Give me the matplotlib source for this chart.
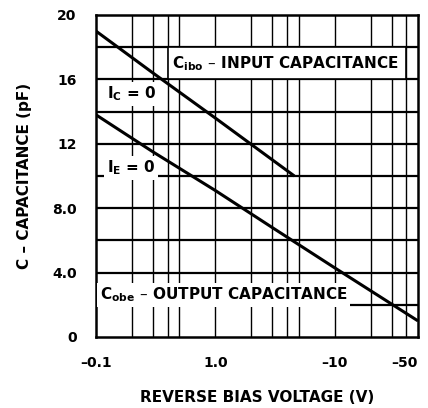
import matplotlib
matplotlib.use('Agg')
import matplotlib.pyplot as plt
from matplotlib.patches import Rectangle

# ---- data ----
input_v = [0.1, 0.3, 1.0, 4.6]
input_c = [19.0, 16.4, 13.6, 10.0]
output_v = [0.1, 0.3, 1.0, 3.0, 10.0, 50.0]
output_c = [13.8, 11.5, 9.1, 6.8, 4.3, 1.0]

x_ticks = [0.1, 1.0, 10.0, 50.0]
x_ticklabels = ['\u20130.1', '1.0', '\u201310', '\u201350']
y_ticks = [0, 4, 8, 12, 16, 20]
y_ticklabels = ['0', '4.0', '8.0', '12', '16', '20']
x_grid = [0.2, 0.3, 0.4, 0.5, 1.0, 2.0, 3.0, 4.0, 5.0, 10.0, 20.0, 30.0, 40.0]
y_grid = [2, 4, 6, 8, 10, 12, 14, 16, 18]

plt.rcParams['font.family'] = ['DejaVu Sans']
plt.rcParams['font.weight'] = 'bold'
plt.rcParams['mathtext.default'] = 'bf'

fig = plt.figure(figsize=(4.28, 4.08), dpi=100)
ax = fig.add_axes([96/428, 1-337/408, (418-96)/428, (337-15)/408])
ax.set_xscale('log')
ax.set_xlim(0.1, 50)
ax.set_ylim(0, 20)

for v in x_grid:
    ax.axvline(v, color='black', lw=1.0, zorder=1)
for c in y_grid:
    ax.axhline(c, color='black', lw=1.6, zorder=1)

ax.set_xticks(x_ticks)
ax.set_xticklabels(x_ticklabels, fontsize=10, fontweight='bold')
ax.set_yticks(y_ticks)
ax.set_yticklabels(y_ticklabels, fontsize=10, fontweight='bold')
ax.minorticks_off()
ax.tick_params(length=0)
ax.tick_params(axis='x', pad=14)
ax.tick_params(axis='y', pad=14)
xl = ax.get_xticklabels()
xl[-1].set_horizontalalignment('right')
xl[-1].set_x(1.0)
for s in ax.spines.values():
    s.set_linewidth(1.8)

# label box for input capacitance
ax.add_patch(Rectangle((0.4, 16), 40-0.4, 2, facecolor='white', edgecolor='black',
                       lw=1.2, zorder=2))
ax.text(0.43, 17, 'C$_{\\mathbf{ibo}}$ \u2013 INPUT CAPACITANCE',
        fontsize=11, fontweight='bold', va='center', ha='left', zorder=3)

box = dict(facecolor='white', edgecolor='none', pad=2)
ax.text(0.123, 15.1, r'I$_{\mathbf{C}}$ = 0', fontsize=11, fontweight='bold',
        va='center', ha='left', zorder=3, bbox=box)
ax.text(0.123, 10.5, r'I$_{\mathbf{E}}$ = 0', fontsize=11, fontweight='bold',
        va='center', ha='left', zorder=3, bbox=box)
ax.text(0.107, 2.6, 'C$_{\\mathbf{obe}}$ \u2013 OUTPUT CAPACITANCE', fontsize=11,
        fontweight='bold', va='center', ha='left', zorder=3, bbox=box)

ax.plot(input_v, input_c, color='black', lw=2.2, zorder=5, solid_capstyle='butt')
ax.plot(output_v, output_c, color='black', lw=2.2, zorder=5, solid_capstyle='butt')

ax.set_ylabel('C \u2013 CAPACITANCE (pF)', fontsize=11, fontweight='bold', labelpad=14)
ax.set_xlabel('REVERSE BIAS VOLTAGE (V)', fontsize=11, fontweight='bold', labelpad=14)

fig.savefig('out.png', dpi=100)
